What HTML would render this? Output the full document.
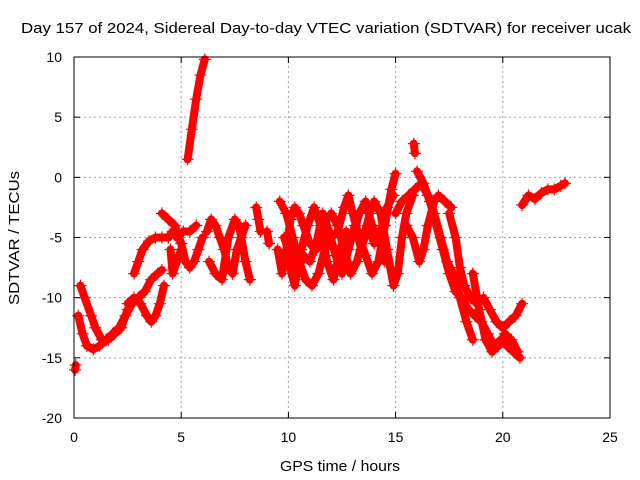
<!DOCTYPE html>
<html><head><meta charset="utf-8"><style>
body{margin:0;background:#fff;}
svg{display:block;font-family:"Liberation Sans",sans-serif;}
</style></head><body>
<svg id="chart" width="640" height="480">
<rect x="0" y="0" width="640" height="480" fill="#fff"/>
<text x="326" y="33" font-size="15" text-anchor="middle" textLength="610" lengthAdjust="spacingAndGlyphs">Day 157 of 2024, Sidereal Day-to-day VTEC variation (SDTVAR) for receiver ucak</text>
<g id="grid"></g>
<g id="data"></g>
<rect x="74" y="57" width="536" height="361" fill="none" stroke="#000" stroke-width="1"/>
<g id="ticks"></g>
<text x="340" y="471" font-size="15" text-anchor="middle" textLength="120" lengthAdjust="spacingAndGlyphs">GPS time / hours</text>
<text transform="translate(19,238) rotate(-90)" font-size="15" text-anchor="middle" textLength="134" lengthAdjust="spacingAndGlyphs">SDTVAR / TECUs</text>
</svg>
<script>
const xTicks=[0,5,10,15,20,25];
const yTicks=[10,5,0,-5,-10,-15,-20];
const tracks=[
[[0.05,-16],[0.08,-15.6]],
[[0.2,-11.5],[0.4,-13],[0.6,-14],[0.9,-14.3],[1.2,-14],[1.5,-13.5],[1.8,-13],[2.1,-12.5],[2.4,-11.5],[2.7,-10.5],[3.0,-10],[3.3,-9.5],[3.6,-8.5],[3.9,-8],[4.1,-7.7]],
[[0.3,-9],[0.5,-10],[0.8,-11.5],[1.0,-12.5],[1.3,-13.5],[1.6,-13.5],[1.9,-13],[2.2,-12.5],[2.5,-11]],
[[2.5,-10.5],[2.8,-10],[3.1,-10.5],[3.4,-11.5],[3.6,-12],[3.8,-11.5],[4.0,-10.5],[4.2,-9]],
[[2.8,-8],[3.0,-7],[3.2,-6],[3.5,-5.3],[3.8,-5],[4.1,-5],[4.4,-5],[4.6,-4.5],[4.8,-5],[5.1,-4.5],[5.4,-4.5],[5.7,-4]],
[[4.1,-3],[4.4,-3.5],[4.7,-4],[5.0,-5.5],[5.2,-7],[5.4,-7.5],[5.6,-7],[5.8,-6],[6.0,-5]],
[[4.5,-6],[4.6,-8],[4.8,-7],[5.0,-6]],
[[5.3,1.5],[5.5,4],[5.7,6.5],[5.9,8.5],[6.1,9.8]],
[[6.2,-4.5],[6.4,-3.5],[6.6,-4],[6.8,-5],[7.0,-6],[7.2,-7.5],[7.4,-8],[7.6,-6],[7.8,-5],[8.0,-4]],
[[6.3,-7],[6.6,-8],[6.9,-8.5],[7.2,-5],[7.5,-3.5],[7.7,-4],[8.0,-7],[8.2,-8.5]],
[[8.5,-2.5],[8.6,-3.5],[8.7,-4.5]],
[[9.0,-4.5],[9.1,-5.5]],
[[9.5,-6],[9.7,-8],[9.9,-6],[10.1,-3.5],[10.3,-2.5],[10.5,-3],[10.7,-4],[11.0,-5.5],[11.3,-6],[11.5,-5],[11.8,-3.5],[12.0,-3],[12.3,-4],[12.6,-6],[12.9,-8],[13.2,-7],[13.5,-5],[13.8,-3],[14.0,-2],[14.3,-3],[14.6,-6],[14.9,-9],[15.1,-8],[15.3,-5],[15.5,-3],[15.8,-1.5]],
[[9.6,-2],[9.9,-3],[10.2,-5],[10.5,-7],[10.8,-8.5],[11.1,-9],[11.4,-8],[11.7,-6],[12.0,-5],[12.3,-4.5],[12.6,-2.5],[12.8,-1.5],[13.0,-3],[13.3,-5],[13.6,-6.5],[13.9,-8],[14.2,-7],[14.5,-4],[14.8,-1],[15.0,0.3]],
[[10.0,-7],[10.3,-9],[10.6,-6],[10.9,-4],[11.2,-2.5],[11.5,-4],[11.8,-7],[12.1,-8.5],[12.4,-6],[12.7,-4.5],[13.0,-5],[13.3,-3],[13.6,-2],[13.9,-4],[14.2,-5],[14.5,-7]],
[[9.8,-5],[10.1,-6.5],[10.4,-8],[10.7,-6.5],[11.0,-7],[11.3,-5.5],[11.6,-3],[11.9,-4.5],[12.2,-6.5],[12.5,-8],[12.8,-6],[13.1,-4],[13.4,-6],[13.7,-4],[14.0,-5.5],[14.3,-4.5],[14.6,-2.5],[14.9,-1.5]],
[[15.0,-3],[15.3,-2],[15.6,-1.5],[15.9,-1],[16.2,-0.5],[16.5,-1.5],[16.8,-3],[17.1,-5],[17.4,-7],[17.7,-8],[18.0,-10],[18.3,-12],[18.6,-13.5]],
[[15.5,-4],[15.8,-5],[16.1,-7],[16.3,-6],[16.5,-4],[16.8,-2],[17.0,-1.5],[17.3,-2],[17.6,-2.5]],
[[16.0,0.5],[16.3,-0.5],[16.6,-2],[16.9,-4],[17.2,-6],[17.5,-8],[17.8,-9.5],[18.1,-10],[18.4,-11],[18.7,-11.5],[19.0,-12],[19.3,-13],[19.6,-14],[19.9,-13.5],[20.2,-14],[20.5,-14.5],[20.8,-15]],
[[17.5,-3],[17.8,-5],[18.0,-7.5],[18.2,-9],[18.5,-10],[18.8,-10.5],[19.1,-10],[19.4,-11],[19.7,-12],[20.0,-12.5],[20.3,-12],[20.6,-11.5],[20.9,-10.5]],
[[18.6,-8],[18.9,-11],[19.2,-13.5],[19.5,-14.5],[19.8,-14],[20.1,-13],[20.4,-13.5],[20.7,-14.5]],
[[20.9,-2.3],[21.2,-1.5],[21.5,-1.8],[21.8,-1.3],[22.1,-1],[22.4,-1],[22.7,-0.7],[22.9,-0.5]],
[[15.85,2.8],[15.9,2.0]]
];
const X0=74,X1=610,Y0=418,Y1=57;
function sx(h){return X0+(h-0)/(25-0)*(X1-X0);}
function sy(v){return Y0-(v-(-20))/(10-(-20))*(Y0-Y1);}
const NS='http://www.w3.org/2000/svg';
const grid=document.getElementById('grid'),ticks=document.getElementById('ticks'),data=document.getElementById('data');
function mk(tag,attrs,parent){const e=document.createElementNS(NS,tag);for(const k in attrs)e.setAttribute(k,attrs[k]);parent.appendChild(e);return e;}
xTicks.forEach(t=>{const x=sx(t);
 if(t>0&&t<25){const g=mk('line',{x1:x,y1:Y0,x2:x,y2:Y1,stroke:'#a0a0a0','stroke-dasharray':'2,3'},grid);
 
 }
 mk('line',{x1:x,y1:Y0,x2:x,y2:Y0-6,stroke:'#000'},ticks);
 mk('line',{x1:x,y1:Y1,x2:x,y2:Y1+6,stroke:'#000'},ticks);
 const l=mk('text',{x:x,y:Y0+24,'font-size':'14','text-anchor':'middle'},ticks);l.textContent=t;
 
 
});
yTicks.forEach(t=>{const y=sy(t);
 if(t>-20&&t<10){const g=mk('line',{x1:X0,y1:y,x2:X1,y2:y,stroke:'#a0a0a0','stroke-dasharray':'2,3'},grid);
 
 }
 mk('line',{x1:X0,y1:y,x2:X0+6,y2:y,stroke:'#000'},ticks);
 mk('line',{x1:X1,y1:y,x2:X1-6,y2:y,stroke:'#000'},ticks);
 const l=mk('text',{x:X0-12,y:y+5,'font-size':'14','text-anchor':'end'},ticks);l.textContent=t;
 
 
});
tracks.forEach(tr=>{
 const pts=tr.map(p=>sx(p[0]).toFixed(1)+','+sy(p[1]).toFixed(1)).join(' ');
 const pl=mk('polyline',{points:pts,fill:'none',stroke:'#ff0000','stroke-width':'8','stroke-linejoin':'round','stroke-linecap':'round'},data);
 
 
 tr.forEach(p=>{const x=sx(p[0]),y=sy(p[1]);
  const m=mk('path',{d:`M${x-6},${y}H${x+6}M${x},${y-6}V${y+6}`,stroke:'#ff0000','stroke-width':'1.2'},data);
  
  
 });
});
</script>
</body></html>
